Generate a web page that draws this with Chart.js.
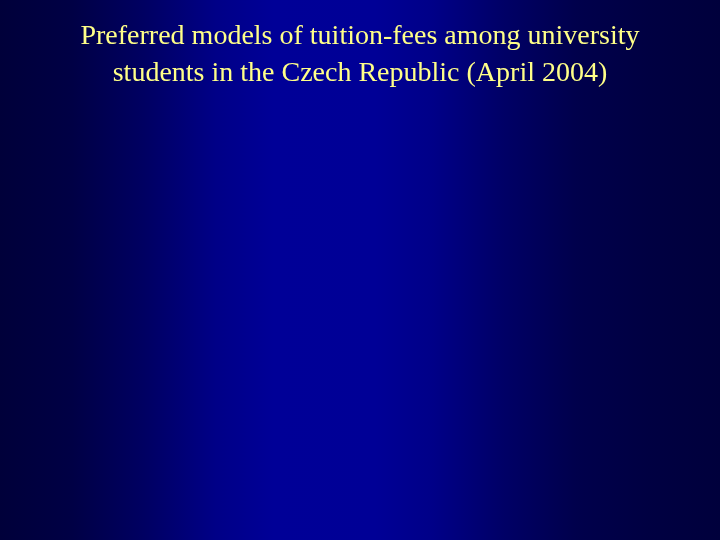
<!DOCTYPE html>
<html>
<head>
<meta charset="utf-8">
<script src="https://cdn.jsdelivr.net/npm/chart.js@4/dist/chart.umd.min.js"></script>
<style>
  html, body { margin: 0; padding: 0; background: #00003c; }
  #wrap { width: 720px; height: 540px; }
</style>
</head>
<body>
<div id="wrap"><canvas id="tuition-chart"></canvas></div>
<script>
// The slide shows only the title, no marks are visible
var titleLines = ['Preferred models of tuition-fees among university', 'students in the Czech Republic (April 2004)'];
var models = [];
var shares = [];

// slide background: dark navy edges, bright blue band in the middle
var slideBackground = {
    id: 'slideBackground',
    beforeDraw: function (chart) {
        var c = chart.ctx;
        var w = chart.width, h = chart.height;
        var g = c.createLinearGradient(0, 0, w, 0);
        g.addColorStop(0, '#00003a');
        g.addColorStop(0.1, '#000045');
        g.addColorStop(0.2, '#000062');
        g.addColorStop(0.3, '#000087');
        g.addColorStop(0.38, '#000097');
        g.addColorStop(0.52, '#000096');
        g.addColorStop(0.6, '#000088');
        g.addColorStop(0.7, '#000066');
        g.addColorStop(0.8, '#00004c');
        g.addColorStop(0.9, '#000042');
        g.addColorStop(1, '#00003c');
        c.save();
        c.fillStyle = g;
        c.fillRect(0, 0, w, h);
        c.restore();
    }
};

var tuitionChartCanvas = document.getElementById('tuition-chart');
var tuitionChart = new Chart(tuitionChartCanvas, {
    type: 'bar',
    data: {
        labels: models,
        datasets: [{
            label: 'Students',
            data: shares,
            backgroundColor: '#ffff88'
        }]
    },
    options: {
        responsive: true,
        maintainAspectRatio: false,
        animation: false,
        layout: { padding: { top: 18 } },
        plugins: {
            legend: { display: false },
            tooltip: { enabled: false },
            title: {
                display: true,
                text: titleLines,
                color: '#ffff88',
                font: { family: '"Liberation Serif", "Times New Roman", serif', size: 28, weight: 'normal', lineHeight: 1.32 },
                padding: 0
            }
        },
        scales: {
            x: { display: false },
            y: { display: false, beginAtZero: true }
        }
    },
    plugins: [slideBackground]
});
</script>
</body>
</html>
